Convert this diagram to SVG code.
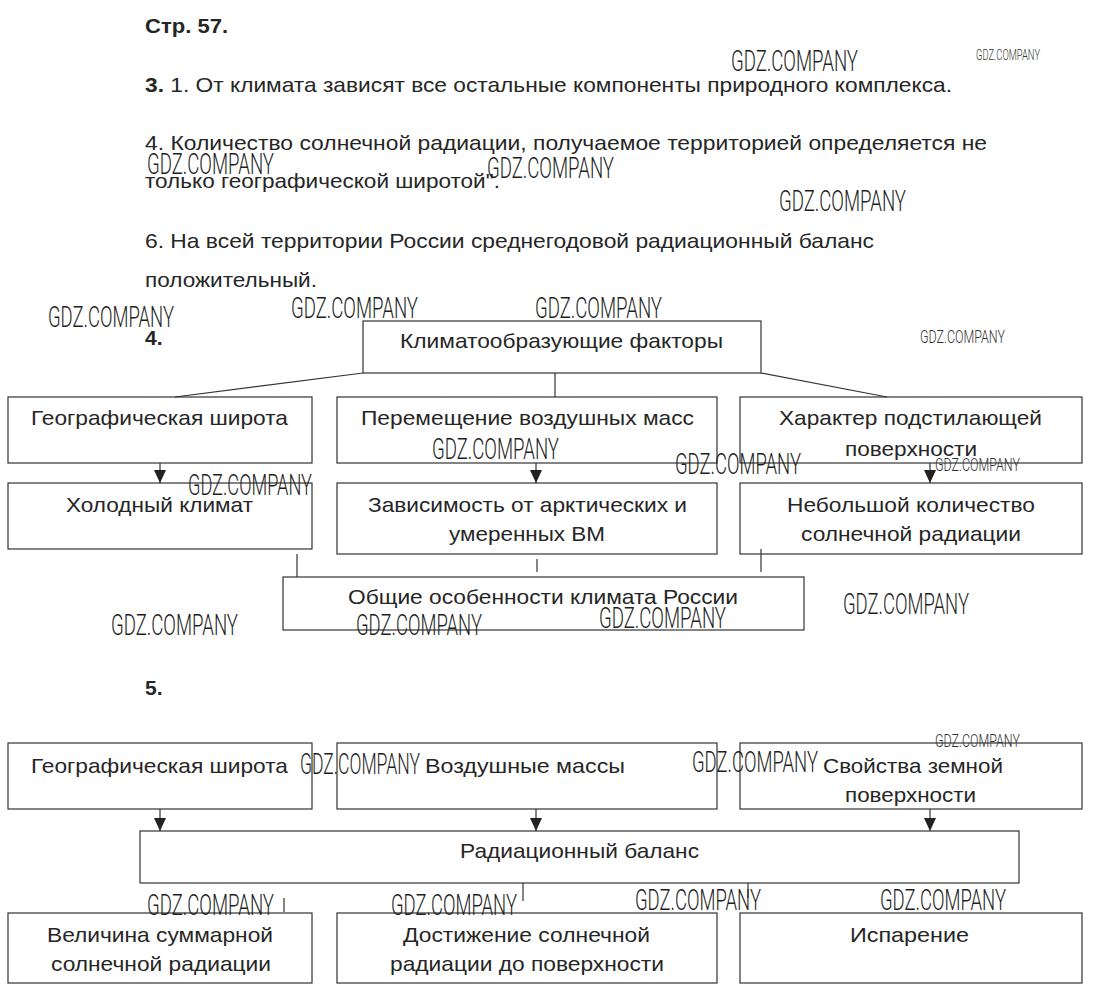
<svg xmlns="http://www.w3.org/2000/svg" width="1095" height="1000" viewBox="0 0 1095 1000">
<style>
  .bg{fill:#ffffff}
  .t{font-family:"Liberation Sans",Arial,sans-serif;font-size:21px;fill:#262626}
  .b{font-weight:bold}
  .box{fill:none;stroke:#333333;stroke-width:1.2}
  .ln{fill:none;stroke:#333333;stroke-width:1.2}
  .wm{font-family:Roboto,"Liberation Sans",sans-serif;font-weight:300;font-size:30px;fill:#1e1e1e}
  .wms{font-family:Roboto,"Liberation Sans",sans-serif;font-weight:300;font-size:15px;fill:#333333}
  .wmm{font-family:Roboto,"Liberation Sans",sans-serif;font-weight:300;font-size:19px;fill:#333333}
</style>
<defs>
  <marker id="ah" viewBox="0 0 13 12" refX="13" refY="6" markerWidth="13" markerHeight="12" markerUnits="userSpaceOnUse" orient="auto">
    <path d="M0,0 L13,6 L0,12 z" fill="#222222"/>
  </marker>
</defs>
<rect class="bg" x="0" y="0" width="1095" height="1000"/>

<g id="text-top">
  <text class="t b" x="145" y="33" textLength="83" lengthAdjust="spacingAndGlyphs">Стр. 57.</text>
  <text class="t" x="145" y="92" textLength="807" lengthAdjust="spacingAndGlyphs"><tspan class="b">3.</tspan> 1. От климата зависят все остальные компоненты природного комплекса.</text>
  <text class="t" x="145" y="150" textLength="842" lengthAdjust="spacingAndGlyphs">4. Количество солнечной радиации, получаемое территорией определяется не</text>
  <text class="t" x="145" y="188" textLength="355" lengthAdjust="spacingAndGlyphs">только географической широтой".</text>
  <text class="t" x="145" y="248" textLength="729" lengthAdjust="spacingAndGlyphs">6. На всей территории России среднегодовой радиационный баланс</text>
  <text class="t" x="145" y="287" textLength="172" lengthAdjust="spacingAndGlyphs">положительный.</text>
  <text class="t b" x="145" y="345">4.</text>
  <text class="t b" x="145" y="695">5.</text>
</g>

<g id="connectors">
  <line class="ln" x1="363" y1="373" x2="175" y2="397"/>
  <line class="ln" x1="555" y1="373" x2="555" y2="397"/>
  <line class="ln" x1="761" y1="373" x2="887" y2="397"/>
  <line class="ln" x1="160" y1="463" x2="160" y2="483" marker-end="url(#ah)"/>
  <line class="ln" x1="536" y1="463" x2="536" y2="483" marker-end="url(#ah)"/>
  <line class="ln" x1="930" y1="463" x2="930" y2="483" marker-end="url(#ah)"/>
  <line class="ln" x1="297" y1="554" x2="297" y2="577"/>
  <line class="ln" x1="537" y1="559" x2="537" y2="572"/>
  <line class="ln" x1="761" y1="549" x2="761" y2="572"/>
  <line class="ln" x1="160" y1="809" x2="160" y2="831" marker-end="url(#ah)"/>
  <line class="ln" x1="536" y1="809" x2="536" y2="831" marker-end="url(#ah)"/>
  <line class="ln" x1="930" y1="809" x2="930" y2="831" marker-end="url(#ah)"/>
  <line class="ln" x1="284" y1="898" x2="284" y2="912"/>
  <line class="ln" x1="523" y1="883" x2="523" y2="901"/>
  <line class="ln" x1="748" y1="883" x2="748" y2="898"/>
</g>

<g id="n-factors">
  <rect class="box" x="363" y="321" width="398" height="52"/>
  <text class="t" x="400" y="348" textLength="323" lengthAdjust="spacingAndGlyphs">Климатообразующие факторы</text>
</g>
<g id="n-latitude">
  <rect class="box" x="8" y="397" width="304" height="66"/>
  <text class="t" x="31" y="425" textLength="257" lengthAdjust="spacingAndGlyphs">Географическая широта</text>
</g>
<g id="n-airmove">
  <rect class="box" x="337" y="397" width="380" height="66"/>
  <text class="t" x="361" y="425" textLength="333" lengthAdjust="spacingAndGlyphs">Перемещение воздушных масс</text>
</g>
<g id="n-surface">
  <rect class="box" x="740" y="397" width="342" height="66"/>
  <text class="t" x="779" y="425" textLength="263" lengthAdjust="spacingAndGlyphs">Характер подстилающей</text>
  <text class="t" x="845" y="456" textLength="132" lengthAdjust="spacingAndGlyphs">поверхности</text>
</g>
<g id="n-cold">
  <rect class="box" x="8" y="483" width="304" height="66"/>
  <text class="t" x="66" y="512" textLength="187" lengthAdjust="spacingAndGlyphs">Холодный климат</text>
</g>
<g id="n-arctic">
  <rect class="box" x="337" y="483" width="380" height="71"/>
  <text class="t" x="368" y="512" textLength="319" lengthAdjust="spacingAndGlyphs">Зависимость от арктических и</text>
  <text class="t" x="449" y="541" textLength="156" lengthAdjust="spacingAndGlyphs">умеренных ВМ</text>
</g>
<g id="n-small">
  <rect class="box" x="740" y="483" width="342" height="71"/>
  <text class="t" x="787" y="512" textLength="248" lengthAdjust="spacingAndGlyphs">Небольшой количество</text>
  <text class="t" x="801" y="541" textLength="220" lengthAdjust="spacingAndGlyphs">солнечной радиации</text>
</g>
<g id="n-general">
  <rect class="box" x="283" y="577" width="521" height="53"/>
  <text class="t" x="348" y="604" textLength="390" lengthAdjust="spacingAndGlyphs">Общие особенности климата России</text>
</g>

<g id="n5-latitude">
  <rect class="box" x="8" y="743" width="304" height="66"/>
  <text class="t" x="31" y="773" textLength="257" lengthAdjust="spacingAndGlyphs">Географическая широта</text>
</g>
<g id="n5-air">
  <rect class="box" x="337" y="743" width="380" height="66"/>
  <text class="t" x="425" y="773" textLength="200" lengthAdjust="spacingAndGlyphs">Воздушные массы</text>
</g>
<g id="n5-surface">
  <rect class="box" x="740" y="743" width="342" height="66"/>
  <text class="t" x="823" y="773" textLength="180" lengthAdjust="spacingAndGlyphs">Свойства земной</text>
  <text class="t" x="845" y="802" textLength="131" lengthAdjust="spacingAndGlyphs">поверхности</text>
</g>
<g id="n5-balance">
  <rect class="box" x="140" y="831" width="879" height="52"/>
  <text class="t" x="460" y="858" textLength="239" lengthAdjust="spacingAndGlyphs">Радиационный баланс</text>
</g>
<g id="n5-total">
  <rect class="box" x="8" y="913" width="304" height="70"/>
  <text class="t" x="47" y="942" textLength="226" lengthAdjust="spacingAndGlyphs">Величина суммарной</text>
  <text class="t" x="51" y="971" textLength="220" lengthAdjust="spacingAndGlyphs">солнечной радиации</text>
</g>
<g id="n5-reach">
  <rect class="box" x="337" y="913" width="380" height="70"/>
  <text class="t" x="403" y="942" textLength="247" lengthAdjust="spacingAndGlyphs">Достижение солнечной</text>
  <text class="t" x="390" y="971" textLength="274" lengthAdjust="spacingAndGlyphs">радиации до поверхности</text>
</g>
<g id="n5-evap">
  <rect class="box" x="740" y="913" width="342" height="70"/>
  <text class="t" x="850" y="942" textLength="119" lengthAdjust="spacingAndGlyphs">Испарение</text>
</g>

<g id="watermarks">
  <text class="wm" x="731" y="71" textLength="127" lengthAdjust="spacingAndGlyphs">GDZ.COMPANY</text>
  <text class="wms" x="976" y="60" textLength="64" lengthAdjust="spacingAndGlyphs">GDZ.COMPANY</text>
  <text class="wm" x="147" y="174" textLength="127" lengthAdjust="spacingAndGlyphs">GDZ.COMPANY</text>
  <text class="wm" x="487" y="178" textLength="127" lengthAdjust="spacingAndGlyphs">GDZ.COMPANY</text>
  <text class="wm" x="779" y="211" textLength="127" lengthAdjust="spacingAndGlyphs">GDZ.COMPANY</text>
  <text class="wm" x="48" y="327" textLength="126" lengthAdjust="spacingAndGlyphs">GDZ.COMPANY</text>
  <text class="wm" x="291" y="318" textLength="127" lengthAdjust="spacingAndGlyphs">GDZ.COMPANY</text>
  <text class="wm" x="535" y="318" textLength="127" lengthAdjust="spacingAndGlyphs">GDZ.COMPANY</text>
  <text class="wmm" x="920" y="343" textLength="85" lengthAdjust="spacingAndGlyphs">GDZ.COMPANY</text>
  <text class="wm" x="432" y="459" textLength="127" lengthAdjust="spacingAndGlyphs">GDZ.COMPANY</text>
  <text class="wm" x="188" y="495" textLength="124" lengthAdjust="spacingAndGlyphs">GDZ.COMPANY</text>
  <text class="wm" x="675" y="474" textLength="126" lengthAdjust="spacingAndGlyphs">GDZ.COMPANY</text>
  <text class="wmm" x="935" y="471" textLength="85" lengthAdjust="spacingAndGlyphs">GDZ.COMPANY</text>
  <text class="wm" x="111" y="635" textLength="127" lengthAdjust="spacingAndGlyphs">GDZ.COMPANY</text>
  <text class="wm" x="356" y="635" textLength="126" lengthAdjust="spacingAndGlyphs">GDZ.COMPANY</text>
  <text class="wm" x="599" y="628" textLength="127" lengthAdjust="spacingAndGlyphs">GDZ.COMPANY</text>
  <text class="wm" x="843" y="614" textLength="126" lengthAdjust="spacingAndGlyphs">GDZ.COMPANY</text>
  <text class="wm" x="300" y="774" textLength="120" lengthAdjust="spacingAndGlyphs">GDZ.COMPANY</text>
  <text class="wm" x="692" y="772" textLength="126" lengthAdjust="spacingAndGlyphs">GDZ.COMPANY</text>
  <text class="wmm" x="935" y="747" textLength="85" lengthAdjust="spacingAndGlyphs">GDZ.COMPANY</text>
  <text class="wm" x="147" y="915" textLength="127" lengthAdjust="spacingAndGlyphs">GDZ.COMPANY</text>
  <text class="wm" x="391" y="915" textLength="126" lengthAdjust="spacingAndGlyphs">GDZ.COMPANY</text>
  <text class="wm" x="635" y="910" textLength="126" lengthAdjust="spacingAndGlyphs">GDZ.COMPANY</text>
  <text class="wm" x="880" y="910" textLength="126" lengthAdjust="spacingAndGlyphs">GDZ.COMPANY</text>
</g>
</svg>
